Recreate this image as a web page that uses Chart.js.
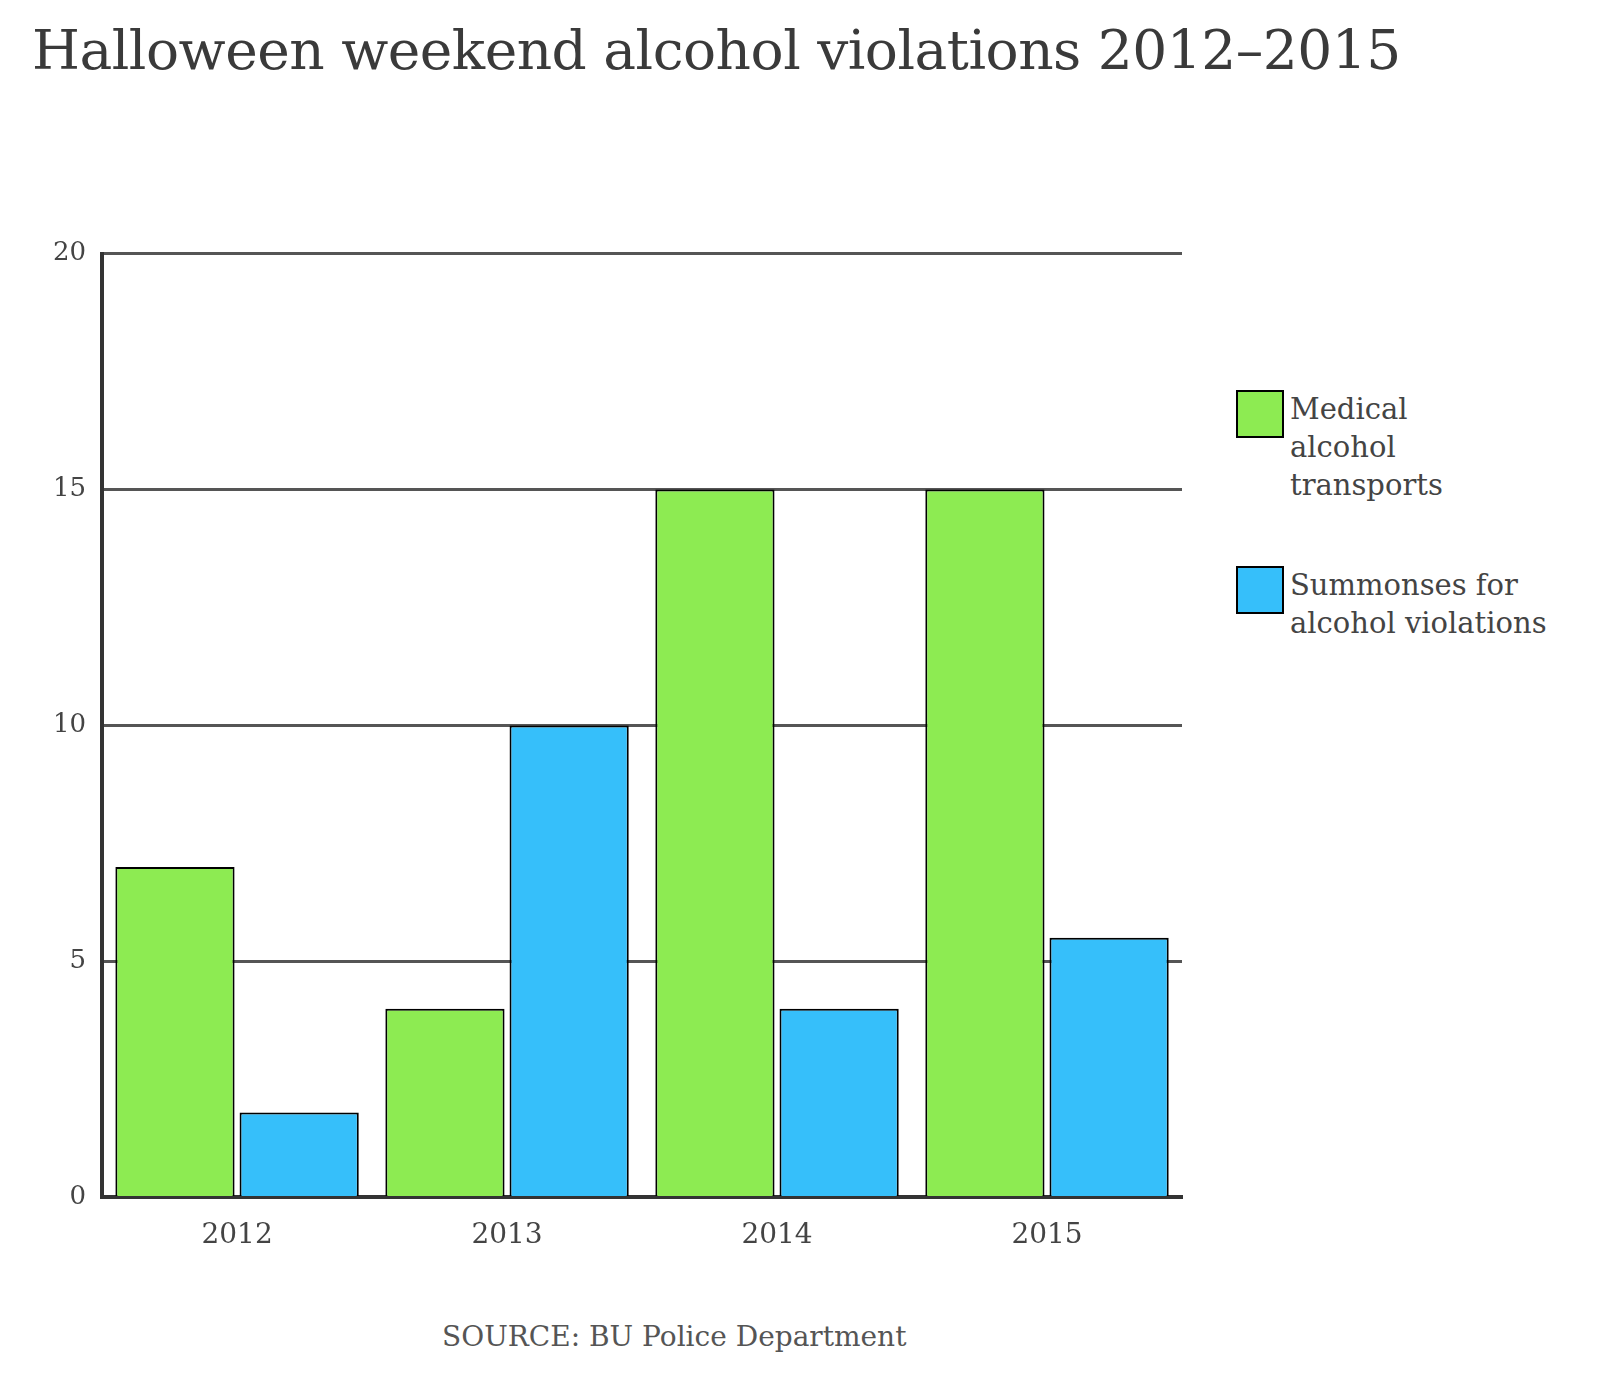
<!DOCTYPE html>
<html>
<head>
<meta charset="utf-8">
<script src="https://cdn.jsdelivr.net/npm/chart.js@4/dist/chart.umd.min.js"></script>
<style>
  body { margin: 0; background: #fff; font-family: "DejaVu Serif", "Liberation Serif", serif; color: #444; }
  #title { position: absolute; left: 32px; top: 18px; font-size: 55px; color: #3a3a3a; letter-spacing: -0.5px; }
  #wrap { position: absolute; left: 37px; top: 222px; width: 1150px; height: 1045px; }
  .leg { position: absolute; left: 1262px; font-size: 29px; line-height: 38px; color: #444; }
  .sw { position: absolute; left: -26px; width: 44px; height: 44px; border: 2px solid #000; }
  .leg span { display: block; margin-left: 28px; }
  #source { position: absolute; left: 442px; top: 1320px; font-size: 28px; color: #555; }
</style>
</head>
<body>
<div id="title">Halloween weekend alcohol violations 2012–2015</div>
<div id="wrap"><canvas id="chart"></canvas></div>
<div class="leg" style="top:390px"><div class="sw" style="background:#8deb52"></div><span>Medical<br>alcohol<br>transports</span></div>
<div class="leg" style="top:566px"><div class="sw" style="background:#36bffa"></div><span>Summonses for<br>alcohol violations</span></div>
<div id="source">SOURCE: BU Police Department</div>
<script>
  // Chart data
  const years = ['2012', '2013', '2014', '2015'];
  const transports = [7, 4, 15, 15];
  const summonses = [1.8, 10, 4, 5.5];
  const yTicks = [0, 5, 10, 15, 20];

  const ctx = document.getElementById('chart').getContext('2d');
  new Chart(ctx, {
    type: 'bar',
    data: {
      labels: years,
      datasets: [{
        label: 'Medical alcohol transports',
        data: transports,
        backgroundColor: '#8deb52',
        borderColor: '#000',
        borderWidth: 2
      }, {
        label: 'Summonses for alcohol violations',
        data: summonses,
        backgroundColor: '#36bffa',
        borderColor: '#000',
        borderWidth: 2
      }]
    },
    options: {
      responsive: true,
      maintainAspectRatio: false,
      animation: false,
      layout: { padding: { top: 12, right: 5 } },
      plugins: { legend: { display: false }, tooltip: { enabled: false } },
      datasets: { bar: { categoryPercentage: 0.92, barPercentage: 0.96 } },
      scales: {
        x: {
          grid: { display: false },
          border: { color: '#333', width: 4 },
          ticks: { color: '#444', font: { family: 'DejaVu Serif', size: 28 }, padding: 14 }
        },
        y: {
          min: 0, max: 20,
          afterBuildTicks: axis => { axis.ticks = yTicks.map(v => ({ value: v })); },
          grid: { color: '#555', lineWidth: 3, drawTicks: false },
          border: { color: '#333', width: 4 },
          ticks: { color: '#444', font: { family: 'DejaVu Serif', size: 26 }, padding: 16 }
        }
      }
    }
  });
</script>
</body>
</html>
